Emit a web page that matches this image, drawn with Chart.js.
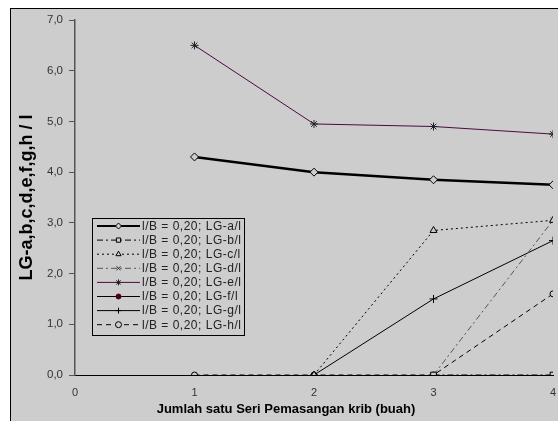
<!DOCTYPE html>
<html>
<head>
<meta charset="utf-8">
<script src="https://cdn.jsdelivr.net/npm/chart.js@4/dist/chart.umd.min.js"></script>
<style>
  html, body { margin: 0; padding: 0; background: #ffffff; overflow: hidden; }
  #frame { position: absolute; left: 10px; top: 8px; width: 600px; height: 500px;
           background: #cdcdcd; border-left: 1px solid #000; border-top: 1px solid #000; }
  #wrap { position: absolute; left: 0; top: 0; width: 558px; height: 421px; }
</style>
</head>
<body>
<div id="frame"></div>
<div id="wrap"><canvas id="c" width="558" height="421"></canvas></div>
<script>
// Number of krib installed in one series (x positions)
const xValues = [1, 2, 3, 4];

// LG / l values per series (null = no point at that x)
const lgA = [4.3, 4.0, 3.85, 3.75];
const lgB = [null, null, 0, 0];
const lgC = [null, 0, 2.85, 3.05];
const lgD = [null, null, 0, 3.05];
const lgE = [6.5, 4.95, 4.9, 4.75];
const lgF = [null, null, null, 0];
const lgG = [null, 0, 1.5, 2.65];
const lgH = [0, 0, 0, 1.6];

const seriesLabels = [
  'l/B = 0,20; LG-a/l',
  'l/B = 0,20; LG-b/l',
  'l/B = 0,20; LG-c/l',
  'l/B = 0,20; LG-d/l',
  'l/B = 0,20; LG-e/l',
  'l/B = 0,20; LG-f/l',
  'l/B = 0,20; LG-g/l',
  'l/B = 0,20; LG-h/l'
];

const yTicks = [0, 1, 2, 3, 4, 5, 6, 7];
const xTicks = [0, 1, 2, 3, 4];

const xTitle = 'Jumlah satu Seri Pemasangan krib (buah)';
const yTitle = 'LG-a,b,c,d,e,f,g,h / l';

function pts(values) {
  return xValues.map((x, i) => ({ x: x, y: values[i] })).filter(p => p.y !== null);
}

const BG = '#cdcdcd';
const FONT = '"Liberation Sans", Arial, sans-serif';

function ds(label, values, o) {
  return Object.assign({
    label: label,
    data: pts(values),
    borderColor: '#000',
    borderWidth: 1,
    pointRadius: 3.5,
    pointBorderWidth: 1,
    pointBorderColor: '#000',
    pointBackgroundColor: BG,
    fill: false,
    tension: 0
  }, o);
}

const datasets = [
  ds(seriesLabels[0], lgA, { borderWidth: 2.5, pointStyle: 'rectRot', pointRadius: 4 }),
  ds(seriesLabels[1], lgB, { borderDash: [6, 3, 2, 3], pointStyle: 'rect', pointRadius: 4 }),
  ds(seriesLabels[2], lgC, { borderDash: [2, 3], pointStyle: 'triangle', pointRadius: 4 }),
  ds(seriesLabels[3], lgD, { borderColor: '#555', borderDash: [6, 3, 2, 3], pointStyle: 'crossRot', pointBorderColor: '#333' }),
  ds(seriesLabels[4], lgE, { borderColor: '#4a0a40', pointStyle: 'star', pointRadius: 4, pointBorderColor: '#222' }),
  ds(seriesLabels[5], lgF, { pointStyle: 'circle', pointRadius: 2.5, pointBackgroundColor: '#4a0010', pointBorderColor: '#4a0010' }),
  ds(seriesLabels[6], lgG, { pointStyle: 'cross', pointRadius: 4 }),
  ds(seriesLabels[7], lgH, { borderDash: [5, 4], pointStyle: 'circle', pointRadius: 3 })
];

// Boxed legend drawn inside the plot area
const boxLegend = {
  id: 'boxLegend',
  afterDatasetsDraw(chart) {
    const ctx = chart.ctx;
    const x0 = 92, y0 = 218, w = 152, h = 117, rowH = 14.1;
    ctx.save();
    ctx.fillStyle = BG;
    ctx.fillRect(x0, y0, w, h);
    ctx.strokeStyle = '#000';
    ctx.lineWidth = 1;
    ctx.setLineDash([]);
    ctx.strokeRect(x0 + 0.5, y0 + 0.5, w, h);
    ctx.font = '12px ' + FONT;
    ctx.letterSpacing = '0.5px';
    ctx.textBaseline = 'middle';
    chart.data.datasets.forEach((d, i) => {
      const y = y0 + 8 + i * rowH;
      ctx.strokeStyle = d.borderColor;
      ctx.lineWidth = Math.min(d.borderWidth, 2);
      ctx.setLineDash(d.borderDash || []);
      ctx.beginPath();
      ctx.moveTo(97, y);
      ctx.lineTo(140, y);
      ctx.stroke();
      ctx.setLineDash([]);
      ctx.fillStyle = d.pointBackgroundColor;
      ctx.strokeStyle = d.pointBorderColor;
      ctx.lineWidth = 1;
      Chart.helpers.drawPoint(ctx, { pointStyle: d.pointStyle, radius: Math.min(d.pointRadius, 3), rotation: 0, borderWidth: 1 }, 118.5, y);
      ctx.fillStyle = '#222';
      ctx.fillText(d.label, 142, y + 0.5);
    });
    ctx.restore();
  }
};

// Horizontal axis title, placed under the tick labels
const xAxisTitle = {
  id: 'xAxisTitle',
  afterDraw(chart) {
    const ctx = chart.ctx;
    ctx.save();
    ctx.font = 'bold 13px ' + FONT;
    ctx.fillStyle = '#000';
    ctx.textAlign = 'center';
    ctx.textBaseline = 'middle';
    ctx.fillText(xTitle, 286, 409);
    ctx.restore();
  }
};

new Chart(document.getElementById('c'), {
  type: 'line',
  data: { datasets: datasets },
  plugins: [boxLegend, xAxisTitle],
  options: {
    responsive: false,
    animation: false,
    layout: { padding: { left: 0, top: 20, right: 2, bottom: 0 } },
    plugins: { legend: { display: false }, tooltip: { enabled: false } },
    scales: {
      x: {
        type: 'linear',
        min: 0, max: 4,
        afterBuildTicks(scale) { scale.ticks = xTicks.map(v => ({ value: v })); },
        afterFit(scale) { scale.height = 46; scale.paddingLeft = 0; scale.paddingRight = 0; },
        grid: { display: false, drawTicks: false },
        border: { display: true, color: '#000', width: 1 },
        ticks: {
          padding: 11,
          color: '#333',
          font: { family: FONT, size: 11 },
          maxRotation: 0,
          callback: v => String(v)
        }
      },
      y: {
        min: 0, max: 7,
        afterBuildTicks(scale) { scale.ticks = yTicks.map(v => ({ value: v })); },
        afterFit(scale) { scale.width = 75; scale.paddingTop = 0; scale.paddingBottom = 0; },
        grid: { drawOnChartArea: false, drawTicks: true, tickLength: 6, color: '#555' },
        border: { display: true, color: '#555', width: 1.5 },
        ticks: {
          padding: 6,
          color: '#333',
          font: { family: FONT, size: 11.5 },
          callback: v => v.toFixed(1).replace('.', ',')
        },
        title: {
          display: true,
          text: yTitle,
          color: '#000',
          font: { family: FONT, size: 18, weight: 'bold' },
          padding: { top: 16, bottom: 0 }
        }
      }
    }
  }
});
</script>
</body>
</html>
